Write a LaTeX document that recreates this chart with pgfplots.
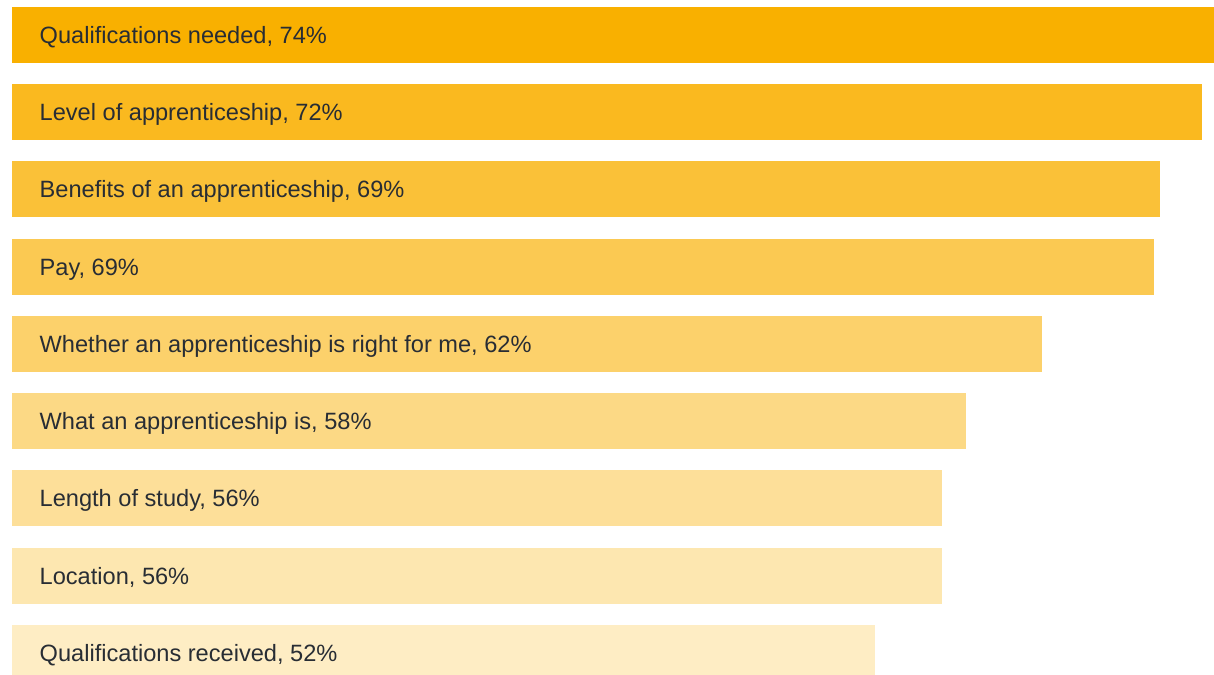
\documentclass[border=0pt]{standalone}
\usepackage{fontspec}
\setmainfont{Liberation Sans}
\usepackage{pgfplots}
\pgfplotsset{compat=1.18}
\definecolor{base}{RGB}{249,176,0}
\definecolor{txt}{RGB}{40,45,52}
\begin{document}
\begin{tikzpicture}
\begin{axis}[
  scale only axis,
  width=1214pt, height=675pt,
  xmin=-0.693, xmax=72.44,
  ymin=-0.453, ymax=8.285,
  y dir=reverse,
  axis on top,
  axis line style={draw=none},
  tick style={draw=none},
  xtick=\empty,
  ytick={0,...,8},
  yticklabels={{Qualifications needed, 74\%},{Level of apprenticeship, 72\%},{Benefits of an apprenticeship, 69\%},{Pay, 69\%},{Whether an apprenticeship is right for me, 62\%},{What an apprenticeship is, 58\%},{Length of study, 56\%},{Location, 56\%},{Qualifications received, 52\%}},
  yticklabel style={anchor=base west, inner sep=0pt, xshift=39.5pt, yshift=-8.3pt, text=txt, font=\fontsize{23.6}{28}\selectfont},
  every axis plot/.append style={xbar, bar shift=0pt, bar width=0.725, draw=none},
]
\addplot[fill=base] coordinates {(74,0)};
\addplot[fill=base!88!white] coordinates {(71.7,1)};
\addplot[fill=base!78!white] coordinates {(69.2,2)};
\addplot[fill=base!68!white] coordinates {(68.8,3)};
\addplot[fill=base!58!white] coordinates {(62.1,4)};
\addplot[fill=base!48!white] coordinates {(57.5,5)};
\addplot[fill=base!40!white] coordinates {(56.05,6)};
\addplot[fill=base!31!white] coordinates {(56.05,7)};
\addplot[fill=base!23!white] coordinates {(52.0,8)};
\end{axis}
\end{tikzpicture}
\end{document}
